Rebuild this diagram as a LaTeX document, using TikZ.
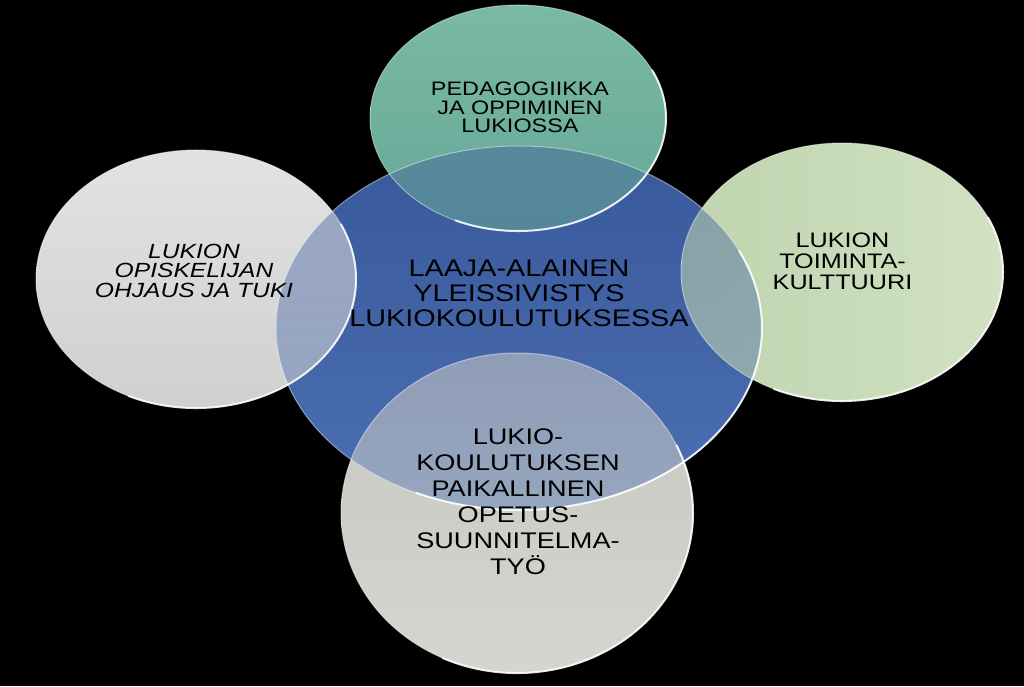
\documentclass[tikz,border=0pt]{standalone}
\usepackage{fontspec}
\setmainfont{Liberation Sans}[FakeStretch=1.2]
\usepackage{xcolor}
\usepackage{tikz}
\usetikzlibrary{shapes.geometric}

\definecolor{sinitumma}{RGB}{56,88,154}
\definecolor{sinivaalea}{RGB}{76,112,180}
\definecolor{turkoosi1}{RGB}{122,186,162}
\definecolor{turkoosi2}{RGB}{102,166,152}
\definecolor{harmaa1}{RGB}{226,226,226}
\definecolor{harmaa2}{RGB}{208,208,208}
\definecolor{vihrea1}{RGB}{192,212,175}
\definecolor{vihrea2}{RGB}{208,226,194}
\definecolor{alaharmaa1}{RGB}{198,198,192}
\definecolor{alaharmaa2}{RGB}{214,214,208}

\tikzset{
  kiekko/.style 2 args={ellipse, inner sep=0pt, outer sep=0pt, minimum width=2*#1, minimum height=2*#2},
  sinisavy/.style={top color=sinitumma, bottom color=sinivaalea},
  ohutreuna/.style={draw=white, draw opacity=.45, line width=1pt},
  kirkasreuna/.style={draw=white, draw opacity=.85, line width=2pt, line cap=round},
  teksti/.style={align=center, inner sep=0pt, text=black}
}

\begin{document}
\begin{tikzpicture}[x=1pt, y=1pt]
        \fill[black] (0,0) rectangle (1024,686);
        \useasboundingbox (0,0) rectangle (1024,686);
        \node[kiekko={243}{182}, sinisavy] (keski) at (519,358) {}; % keskimmainen kiekko
        \node[kiekko={148}{113}, top color=turkoosi1, bottom color=turkoosi2] (yla) at (518,568) {};
        \node[kiekko={160}{129}, top color=harmaa1, bottom color=harmaa2] (vasen) at (196,407) {};
        \node[kiekko={161}{129}, left color=vihrea1, right color=vihrea2] (oikea) at (842,414) {};
        \node[kiekko={176}{160}, top color=alaharmaa1, bottom color=alaharmaa2] (ala) at (517,173) {};
        \node[kiekko={243}{182}, sinisavy, fill opacity=.42] (peite) at (keski) {}; % läpikuultava sininen
        \foreach \n/\rx/\ry in {keski/243pt/182pt, yla/148pt/113pt, vasen/160pt/129pt, oikea/161pt/129pt, ala/176pt/160pt} {
          \draw[ohutreuna] (\n.center) ellipse [x radius=\rx, y radius=\ry];
          \draw[kirkasreuna] (\n.center) ++({cos(245)*\rx},{sin(245)*\ry}) arc[start angle=245, end angle=385, x radius=\rx, y radius=\ry];
        }
        \node[teksti, font=\fontsize{19.5}{18.5}\selectfont] (ylateksti) at (520,578.3) {PEDAGOGIIKKA\\JA OPPIMINEN\\LUKIOSSA};
        \node[teksti, font=\fontsize{24}{25}\selectfont] (keskiteksti) at (519,392.5) {LAAJA-ALAINEN\\YLEISSIVISTYS\\LUKIOKOULUTUKSESSA};
        \node[teksti, font=\itshape\fontsize{20.5}{19.5}\selectfont] (vasenteksti) at (194,415.2) {LUKION\\OPISKELIJAN\\OHJAUS JA TUKI};
        \node[teksti, font=\fontsize{21}{21}\selectfont] (oikeateksti) at (842.5,424.3) {LUKION\\TOIMINTA-\\KULTTUURI};
        \node[teksti, font=\fontsize{22.6}{26}\selectfont] (alateksti) at (518,184.3) {LUKIO-\\KOULUTUKSEN\\PAIKALLINEN\\OPETUS-\\SUUNNITELMA-\\TYÖ};
    \end{tikzpicture}
\end{document}
